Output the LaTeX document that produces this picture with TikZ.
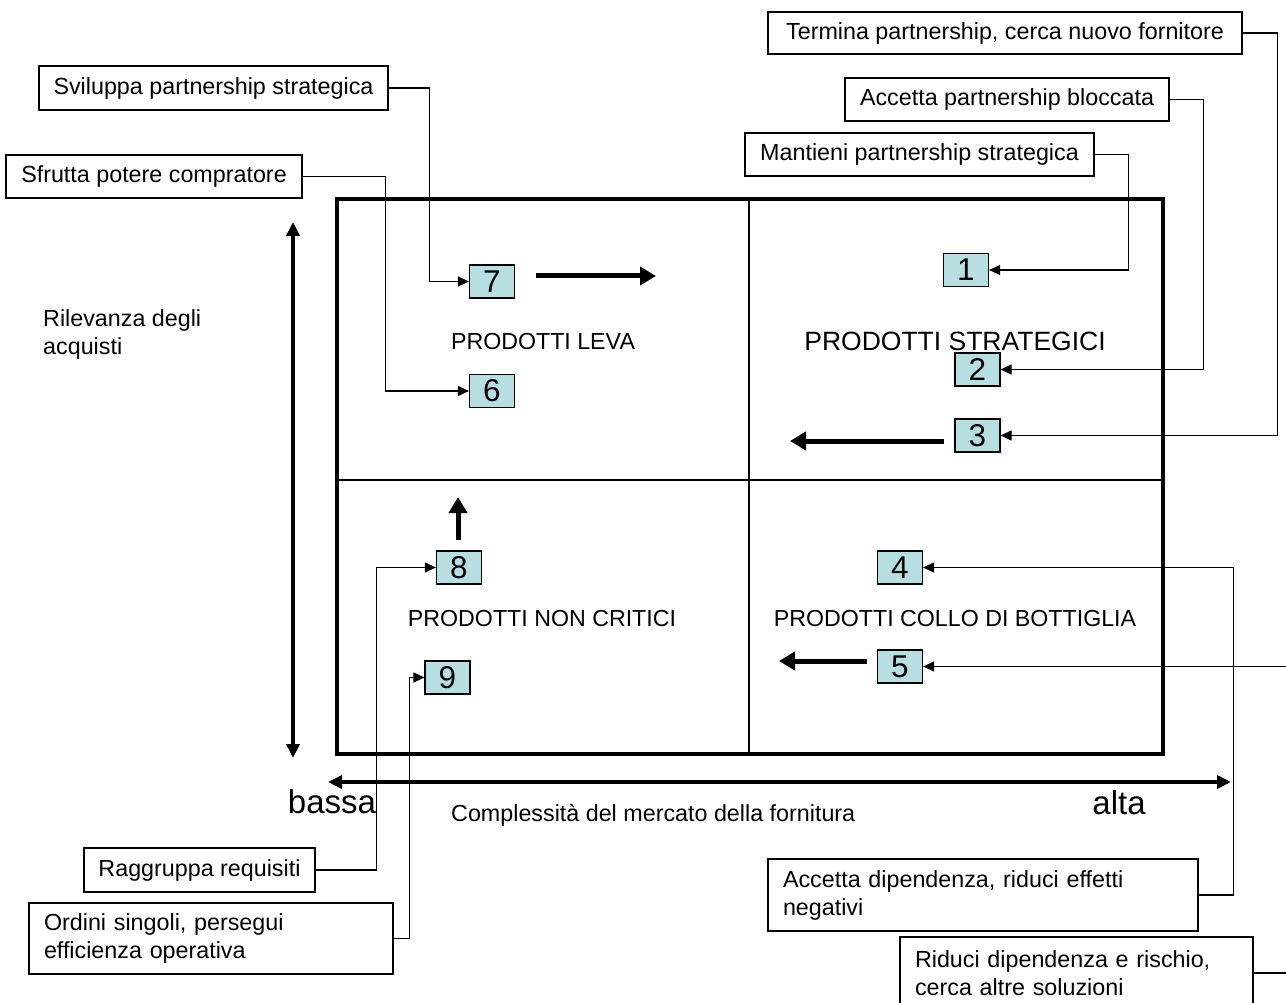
\documentclass[tikz,border=0pt]{standalone}
\usepackage{fontspec}
\setmainfont{Liberation Sans}
\usetikzlibrary{arrows.meta}
\definecolor{numfill}{RGB}{183,222,225}
\begin{document}
\begin{tikzpicture}[x=1pt,y=-1pt,
  callout/.style={draw, line width=1.2pt, fill=white, inner sep=0pt, font=\fontsize{23.3}{28}\selectfont},
  multi/.style={callout, align=left, text width=#1, inner xsep=15pt},
  numbox/.style={draw, line width=1.2pt, fill=numfill, minimum width=45pt, minimum height=33pt, inner sep=0pt, font=\fontsize{31.5}{31.5}\selectfont},
  conn/.style={line width=1.2pt, -{Triangle[length=11pt,width=10pt]}},
  bigarrow/.style={line width=5pt, -{Triangle[length=16pt,width=18pt]}},
  axisarrow/.style={line width=4pt, {Triangle[length=14pt,width=13pt]}-{Triangle[length=14pt,width=13pt]}},
  lbl/.style={inner sep=0pt, font=\fontsize{23.3}{28}\selectfont},
  quad/.style={inner sep=0pt, font=\fontsize{23.2}{28}\selectfont},
  big/.style={inner sep=0pt, font=\fontsize{33}{36}\selectfont}]
\useasboundingbox (0,0) rectangle (1286,1003);
\clip (0,0) rectangle (1286,1003);

% matrix
\draw[line width=4pt] (337,199) rectangle (1163,754);
\draw[line width=1.5pt] (749,199) -- (749,754);
\draw[line width=1.5pt] (337,480) -- (1163,480);

% quadrant labels
\node[quad] (leva) at (543,342) {PRODOTTI LEVA};
\node[inner sep=0pt, font=\fontsize{26.5}{30}\selectfont] (strat) at (955,341) {PRODOTTI STRATEGICI};
\node[quad] (noncrit) at (542,619) {PRODOTTI NON CRITICI};
\node[quad] (collo) at (955,619) {PRODOTTI COLLO DI BOTTIGLIA};

% number boxes
\node[numbox] (n1) at (966,270) {1};
\node[numbox] (n2) at (977.5,369.5) {2};
\node[numbox] (n3) at (977.5,435.5) {3};
\node[numbox] (n4) at (900,567.5) {4};
\node[numbox] (n5) at (900,666.5) {5};
\node[numbox] (n6) at (492,391) {6};
\node[numbox] (n7) at (492,281.5) {7};
\node[numbox] (n8) at (459,567.5) {8};
\node[numbox] (n9) at (447.5,677.5) {9};

% callouts
\node[callout, minimum width=474pt, minimum height=42pt] (term) at (1005,33) {Termina partnership, cerca nuovo fornitore};
\node[callout, minimum width=324pt, minimum height=43pt] (acc) at (1007,99.5) {Accetta partnership bloccata};
\node[callout, minimum width=349pt, minimum height=43pt] (mant) at (919.5,154.5) {Mantieni partnership strategica};
\node[callout, minimum width=349pt, minimum height=44pt] (svil) at (213.5,88) {Sviluppa partnership strategica};
\node[callout, minimum width=296pt, minimum height=43pt] (sfr) at (154,176.5) {Sfrutta potere compratore};
\node[callout, minimum width=231pt, minimum height=44pt] (ragg) at (199.5,870) {Raggruppa requisiti};
\node[multi=334pt, minimum height=71pt] (ord) at (211,938.5) {Ordini singoli, persegui\\efficienza operativa};
\node[multi=400pt, minimum height=72pt] (accd) at (983,895) {Accetta dipendenza, riduci effetti\\negativi};
\node[multi=323pt, minimum height=72pt] (rid) at (1076.5,973) {Riduci dipendenza e rischio,\\cerca altre soluzioni};

% connectors
\draw[conn] (mant.east) -- ++(34,0) |- (n1.east);
\draw[conn] (acc.east) -- ++(34,0) |- (n2.east);
\draw[conn] (term.east) -- ++(35,0) |- (n3.east);
\draw[conn] (svil.east) -- ++(41,0) |- (n7.west);
\draw[conn] (sfr.east) -- ++(83,0) |- (n6.west);
\draw[conn] (ragg.east) -- ++(61,0) |- (n8.west);
\draw[conn] (ord.east) -- ++(16,0) |- (n9.west);
\draw[conn] (accd.east) -- ++(35,0) |- (n4.east);
\draw[conn] (rid.east) -- ++(60,0) |- (n5.east);

% movement arrows
\coordinate (a7s) at (536,276); \coordinate (a7e) at (656,276);
\coordinate (a3s) at (944,441); \coordinate (a3e) at (790,441);
\coordinate (a5s) at (867,661); \coordinate (a5e) at (779,661);
\coordinate (a8s) at (458,540); \coordinate (a8e) at (458,497);
\draw[bigarrow] (a7s) -- (a7e);
\draw[bigarrow] (a3s) -- (a3e);
\draw[bigarrow] (a5s) -- (a5e);
\draw[bigarrow] (a8s) -- (a8e);

% axes
\coordinate (vt) at (293,222); \coordinate (vb) at (293,758);
\coordinate (hl) at (328,782); \coordinate (hr) at (1231,782);
\draw[axisarrow] (vt) -- (vb);
\draw[axisarrow] (hl) -- (hr);

% axis labels
\node[lbl, align=left, anchor=west] (ril) at (43,334) {Rilevanza degli\\acquisti};
\node[big] (bassa) at (332,802) {bassa};
\node[big] (alta) at (1119,803) {alta};
\node[lbl, anchor=west] (compl) at (451,815) {Complessità del mercato della fornitura};
\end{tikzpicture}
\end{document}
